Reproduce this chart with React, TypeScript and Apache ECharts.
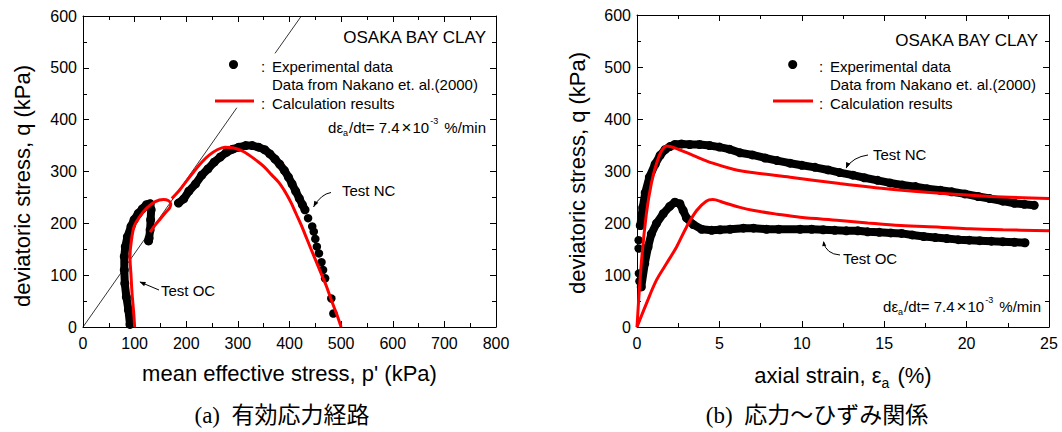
import React, { useEffect, useRef } from "react";
import * as echarts from "echarts";

const SANS = '"Liberation Sans", Arial, Helvetica, sans-serif';
const CAP = '"Liberation Serif", "Noto Sans CJK JP", serif';
const RED = "#ff0000";
const BLACK = "#000000";

// ---------- (a) effective stress path : [p' (kPa), q (kPa)] ----------
const expOcPQ: number[][] = [
  [91, 5], [88, 33], [84, 58], [81, 84], [80, 110], [80, 136], [82, 155], [86, 174],
  [93, 194], [99, 207], [107, 219], [115, 228], [123, 236], [130, 238], [132, 226],
  [131, 207], [130, 187], [128, 171], [127, 166],
];
const expNcPQ: number[][] = [
  [185, 239], [195, 247], [205, 262], [218, 276], [230, 293], [242, 305], [254, 318],
  [266, 328], [278, 337], [290, 343], [302, 347], [315, 350], [328, 350], [340, 347],
  [352, 342], [362, 334], [372, 324], [381, 314], [390, 302], [398, 289], [405, 276],
  [412, 262], [419, 248], [425, 236], [430, 226],
];
const expNcPQSparse: number[][] = [
  [436, 210], [444, 194], [447, 184], [450, 170], [453, 155], [457, 142], [462, 125],
  [465, 110], [469, 94], [481, 55], [485, 26],
];
const calcOcPQ: number[][] = [
  [100, 0], [98, 30], [95, 65], [93, 100], [91, 136], [93, 161], [99, 194], [110, 213],
  [123, 229], [140, 242], [156, 246], [165, 244], [170, 238], [168, 230], [160, 221],
  [150, 209], [140, 197], [130, 183],
];
const calcNcPQ: number[][] = [
  [172, 248], [186, 263], [200, 281], [215, 300], [230, 318], [245, 332], [260, 342],
  [275, 347], [290, 346], [305, 341], [320, 333], [335, 322], [350, 310], [365, 294],
  [380, 278], [392, 260], [403, 240], [413, 218], [423, 196], [432, 174], [441, 152],
  [451, 128], [461, 104], [471, 80], [481, 52], [491, 26], [500, 0],
];
const cslLowerPQ: number[][] = [[0, 0], [298, 423]];
const cslUpperPQ: number[][] = [[372, 528], [423, 600]];

// ---------- (b) stress-strain : [axial strain (%), q (kPa)] ----------
const expNcEQ: number[][] = [
  [0.2, 195], [0.35, 230], [0.5, 258], [0.75, 288], [1.1, 313], [1.4, 330], [1.7, 341],
  [2.0, 347], [2.3, 351], [2.7, 352], [3.2, 351], [3.8, 351], [4.4, 349], [5.0, 346],
  [5.6, 342], [6.25, 335], [7.0, 331], [7.77, 325], [8.5, 320], [9.28, 315], [10.0, 311],
  [10.8, 307], [11.6, 302], [12.3, 297], [13.1, 292], [13.8, 287], [14.6, 282],
  [15.35, 277], [16.1, 273], [16.9, 270], [17.6, 266], [18.4, 263], [19.1, 260],
  [19.9, 256], [20.7, 251], [21.4, 247], [22.2, 242], [22.9, 238], [23.5, 236], [24.1, 234],
];
const expOcEQ: number[][] = [
  [0.26, 77], [0.47, 122], [0.67, 154], [0.87, 179], [1.18, 199], [1.59, 218], [1.99, 232],
  [2.3, 240], [2.6, 237], [2.8, 224], [3.0, 210], [3.41, 197], [3.92, 188], [4.53, 186],
  [5.04, 187], [5.65, 188], [6.46, 190], [7.07, 190], [7.86, 188], [8.6, 188], [9.9, 188],
  [10.6, 188], [11.3, 187], [12.0, 186], [12.7, 185], [13.4, 185], [14.0, 183], [14.7, 182],
  [15.4, 181], [16.06, 180], [16.7, 177], [17.4, 174], [18.1, 172], [18.8, 170], [19.5, 168],
  [20.16, 167], [20.8, 166], [21.5, 165], [22.2, 164], [22.9, 163], [23.54, 162],
];
const expSparseEQ: number[][] = [[0.1, 167], [0.1, 151], [0.12, 103], [0.15, 88]];
const calcNcEQ: number[][] = [
  [0, 0], [0.26, 122], [0.57, 218], [0.87, 276], [1.18, 314], [1.48, 338], [1.8, 348],
  [2.4, 343], [3.4, 330], [4.6, 315], [5.9, 303], [7.0, 297], [9.3, 288], [12.3, 276],
  [15.4, 265], [18.4, 257], [21.4, 251], [25, 247],
];
const calcOcEQ: number[][] = [
  [0, 0], [0.57, 45], [1.18, 90], [1.79, 122], [2.4, 154], [3.0, 192], [3.62, 224],
  [4.2, 242], [4.6, 245], [5.2, 240], [6.25, 230], [7.1, 224], [8.5, 217], [9.9, 211],
  [12.3, 205], [14, 200], [16, 195], [18.4, 192], [20.2, 189], [22.2, 187], [25, 185],
];

const baseAxis = (gridIndex: number, max: number, interval: number) => ({
  type: "value",
  gridIndex,
  min: 0,
  max,
  interval,
  splitLine: { show: false },
  axisLine: { show: true, onZero: false, lineStyle: { color: BLACK, width: 1 } },
  axisTick: { show: true, inside: true, length: 6, lineStyle: { color: BLACK, width: 1 } },
  minorTick: { show: true, splitNumber: 2, length: 4, lineStyle: { color: BLACK, width: 1 } },
  minorSplitLine: { show: false },
});
const tickLabel = (margin: number) => ({
  show: true, color: BLACK, fontSize: 16, fontFamily: SANS, margin,
});

const band = (data: number[][], ax: number) => ({
  type: "line", xAxisIndex: ax, yAxisIndex: ax, data, symbol: "circle", symbolSize: 9,
  showSymbol: true, showAllSymbol: true, itemStyle: { color: BLACK, opacity: 1 },
  lineStyle: { color: BLACK, width: 8, cap: "round", join: "round" }, z: 2, silent: true,
});
const dots = (data: number[][], ax: number) => ({
  type: "scatter", xAxisIndex: ax, yAxisIndex: ax, data, symbol: "circle", symbolSize: 8.5,
  itemStyle: { color: BLACK, opacity: 1 }, z: 2, silent: true,
});
const calc = (data: number[][], ax: number) => ({
  type: "line", xAxisIndex: ax, yAxisIndex: ax, data, symbol: "none", smooth: 0.35,
  lineStyle: { color: RED, width: 3 }, z: 4, silent: true,
});
const thin = (data: number[][]) => ({
  type: "line", xAxisIndex: 0, yAxisIndex: 0, data, symbol: "none",
  lineStyle: { color: BLACK, width: 0.8 }, z: 1, silent: true,
});

const txt = (x: number, y: number, text: string, fontSize: number, align = "left", extra: any = {}) => ({
  type: "text", x, y, z: 100, silent: true,
  style: { text, fill: BLACK, fontSize, fontFamily: SANS, align, verticalAlign: "middle", ...extra },
});
const arrowHead = (tx: number, ty: number, fx: number, fy: number, len = 6, half = 2.3) => {
  const dx = tx - fx, dy = ty - fy;
  const L = Math.hypot(dx, dy);
  const ux = dx / L, uy = dy / L;
  const bx = tx - ux * len, by = ty - uy * len;
  return {
    type: "polygon", z: 100, silent: true,
    shape: { points: [[tx, ty], [bx - uy * half, by + ux * half], [bx + uy * half, by - ux * half]] },
    style: { fill: BLACK },
  };
};
const curve = (x1: number, y1: number, cx: number, cy: number, x2: number, y2: number) => ({
  type: "bezierCurve", z: 100, silent: true,
  shape: { x1, y1, x2, y2, cpx1: cx, cpy1: cy },
  style: { stroke: BLACK, lineWidth: 1, fill: null },
});
const rateText = (xRight: number, y: number) =>
  txt(xRight, y, "{m|dε}{s|a}{m|/dt= 7.4}{x|×}{m|10}{p|-3}{m| %/min}", 15, "right", {
    rich: {
      m: { fontSize: 15, fontFamily: SANS, fill: BLACK },
      x: { fontSize: 17, fontFamily: SANS, fill: BLACK, padding: [0, 1, 0, 2] },
      s: { fontSize: 9, fontFamily: SANS, fill: BLACK, padding: [12, 1, 0, 0] },
      p: { fontSize: 9, fontFamily: SANS, fill: BLACK, padding: [0, 2, 12, 1] },
    },
  });
const legend = (dotX: number, colonX: number, lineX1: number, lineX2: number) => [
  { type: "circle", z: 100, silent: true, shape: { cx: dotX, cy: 64.5, r: 4.5 }, style: { fill: BLACK } },
  txt(colonX, 66, ":", 15),
  txt(colonX + 11, 66, "Experimental data", 15),
  txt(colonX + 11, 84, "Data from Nakano et. al.(2000)", 15),
  { type: "line", z: 100, silent: true, shape: { x1: lineX1, y1: 101, x2: lineX2, y2: 101 }, style: { stroke: RED, lineWidth: 3 } },
  txt(colonX, 103, ":", 15),
  txt(colonX + 11, 103, "Calculation results", 15),
];

export default function App() {
  const ref = useRef<HTMLDivElement>(null);
  useEffect(() => {
    document.body.style.margin = "0";
    if (!ref.current) return;
    const chart = echarts.init(ref.current, null, { renderer: "svg" });
    const option: any = {
      animation: false,
      backgroundColor: "#ffffff",
      textStyle: { fontFamily: SANS },
      grid: [
        { left: 83, top: 16, width: 413, height: 311, containLabel: false },
        { left: 637, top: 15, width: 412, height: 312, containLabel: false },
      ],
      xAxis: [
        {
          ...baseAxis(0, 800, 100), position: "bottom", axisLabel: tickLabel(8),
          name: "mean effective stress, p' (kPa)", nameLocation: "middle", nameGap: 35,
          nameTextStyle: { fontSize: 22, fontFamily: SANS, color: BLACK },
        },
        { ...baseAxis(0, 800, 100), position: "top", axisLabel: { show: false } },
        {
          ...baseAxis(1, 25, 5), position: "bottom", axisLabel: tickLabel(8),
          name: "{m|axial strain, ε}{s|a}{m| (%)}", nameLocation: "middle", nameGap: 33,
          nameTextStyle: {
            fontSize: 22, fontFamily: SANS, color: BLACK,
            rich: {
              m: { fontSize: 22, fontFamily: SANS, color: BLACK },
              s: { fontSize: 14, fontFamily: SANS, color: BLACK, padding: [16, 2, 0, 0] },
            },
          },
        },
        { ...baseAxis(1, 25, 5), position: "top", axisLabel: { show: false } },
      ],
      yAxis: [
        { ...baseAxis(0, 600, 100), position: "left", axisLabel: tickLabel(6) },
        { ...baseAxis(0, 600, 100), position: "right", axisLabel: { show: false } },
        { ...baseAxis(1, 600, 100), position: "left", axisLabel: tickLabel(6) },
        { ...baseAxis(1, 600, 100), position: "right", axisLabel: { show: false } },
      ],
      series: [
        thin(cslLowerPQ),
        thin(cslUpperPQ),
        band(expOcPQ, 0),
        band(expNcPQ, 0),
        dots(expNcPQSparse, 0),
        calc(calcOcPQ, 0),
        calc(calcNcPQ, 0),
        { ...band(expNcEQ, 2), xAxisIndex: 2, yAxisIndex: 2 },
        { ...band(expOcEQ, 2), xAxisIndex: 2, yAxisIndex: 2 },
        { ...dots(expSparseEQ, 2), xAxisIndex: 2, yAxisIndex: 2 },
        { ...calc(calcNcEQ, 2), xAxisIndex: 2, yAxisIndex: 2 },
        { ...calc(calcOcEQ, 2), xAxisIndex: 2, yAxisIndex: 2 },
      ],
      graphic: [
        // y axis titles
        { ...txt(22, 186, "deviatoric stress, q (kPa)", 22, "center"), rotation: Math.PI / 2 },
        { ...txt(577, 173, "deviatoric stress, q (kPa)", 22, "center"), rotation: Math.PI / 2 },
        // panel (a) annotations
        txt(486, 37, "OSAKA BAY CLAY", 17, "right"),
        ...legend(233.5, 261, 215, 254),
        rateText(486, 127),
        txt(342, 190, "Test NC", 15),
        curve(331, 192.5, 321, 194, 313.5, 207),
        arrowHead(313.5, 207, 317, 200.5),
        txt(161, 290, "Test OC", 15),
        { type: "line", z: 100, silent: true, shape: { x1: 159, y1: 290, x2: 140, y2: 282 }, style: { stroke: BLACK, lineWidth: 1 } },
        arrowHead(139.5, 281.8, 159, 290),
        // panel (b) annotations
        txt(1038, 40.5, "OSAKA BAY CLAY", 17, "right"),
        ...legend(792.7, 819, 773, 813),
        rateText(1041, 306),
        txt(873, 154, "Test NC", 15),
        curve(868, 155, 853, 157, 846, 168),
        arrowHead(846, 168.5, 849, 161),
        txt(843, 258, "Test OC", 15),
        curve(840, 255, 826, 254, 823.5, 242),
        arrowHead(823.5, 241, 824.5, 248, 5, 2),
        // captions
        {
          type: "text", x: 282, y: 415, z: 100, silent: true,
          style: { text: "(a)  有効応力経路", fill: BLACK, fontSize: 23, fontFamily: CAP, align: "center", verticalAlign: "middle" },
        },
        {
          type: "text", x: 817, y: 415, z: 100, silent: true,
          style: { text: "(b)  応力～ひずみ関係", fill: BLACK, fontSize: 23, fontFamily: CAP, align: "center", verticalAlign: "middle" },
        },
      ],
    };
    chart.setOption(option);
    return () => chart.dispose();
  }, []);
  return <div ref={ref} style={{ width: 1062, height: 432 }} />;
}
